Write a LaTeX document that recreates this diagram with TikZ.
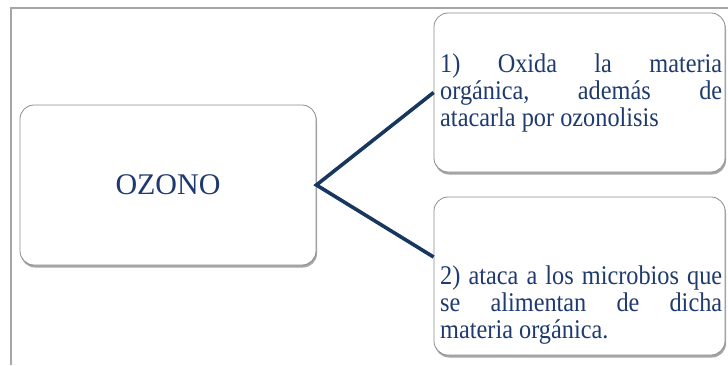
\documentclass[tikz,border=0pt]{standalone}
\usepackage{fontspec}
\setmainfont{Liberation Serif}
\newfontfamily\bodyfont[FakeStretch=0.9]{Liberation Serif}
\usetikzlibrary{shadows}
\definecolor{inkblue}{HTML}{1F3A6E}
\definecolor{linkblue}{HTML}{17375E}
\definecolor{framegray}{HTML}{A6A6A6}
\definecolor{edgegray}{HTML}{8C8C8C}
% a justified line set over the full text width
\newcommand\fullline[1]{\hbox to 282pt{#1}}
\newcommand\plainline[1]{\hbox{#1}}
\begin{document}
\begin{tikzpicture}[x=1pt,y=1pt,
  card/.style={draw=edgegray, line width=0.8pt, fill=white, rounded corners=14pt, inner sep=0pt,
     drop shadow={shadow xshift=1pt, shadow yshift=-2.5pt, fill=black, opacity=0.35}},
  link/.style={draw=linkblue, line width=3.6pt},
  body/.style={text=inkblue, font=\bodyfont\fontsize{27}{27}\selectfont, inner sep=0pt,
     anchor=north west}]
\useasboundingbox (0,0) rectangle (728,365);
% page frame
\draw[framegray, line width=1.5pt] (11,0) -- (11,357) -- (728,357);
% cards
\node[card, minimum width=296pt, minimum height=160pt, text=inkblue,
      font=\fontsize{30}{32}\selectfont] (ozono) at (168,180) {OZONO};
\node[card, minimum width=291pt, minimum height=159pt] (c1) at (579.5,272.5) {};
\node[card, minimum width=291pt, minimum height=158pt] (c2) at (579.5,89) {};
% texts
\node[body] (t1) at (440,311) {\vbox{\baselineskip=27pt
  \fullline{1)\hfill Oxida\hfill la\hfill materia}
  \fullline{orgánica,\hfill además\hfill de}
  \plainline{atacarla por ozonolisis}}};
\node[body] (t2) at (440,99) {\vbox{\baselineskip=27pt
  \fullline{2) ataca a los microbios que}
  \fullline{se\hfill alimentan\hfill de\hfill dicha}
  \plainline{materia orgánica.}}};
% connectors
\coordinate (c2in) at ([yshift=19pt]c2.west);
\draw[link] (c1.west) -- (ozono.east) -- (c2in);
\end{tikzpicture}
\end{document}
